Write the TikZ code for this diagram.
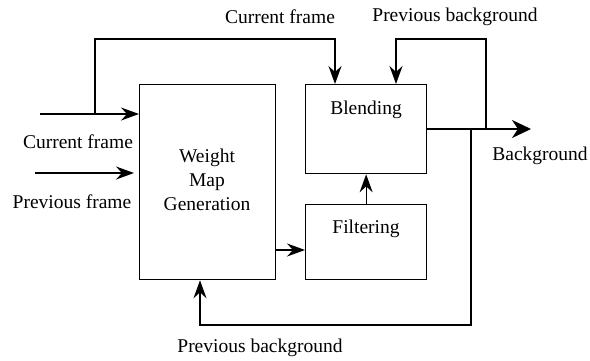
\documentclass[tikz,border=0pt]{standalone}
\usepackage{fontspec}
\setmainfont{Liberation Serif}
\usetikzlibrary{arrows.meta}
\begin{document}
\begin{tikzpicture}[x=1pt,y=-1pt,
  box/.style={draw,line width=1.3pt,inner sep=0pt,anchor=north west},
  lbl/.style={font=\rmfamily\fontsize{19.5}{24}\selectfont,inner sep=0pt},
  conn/.style={line width=1.3pt},
  arr/.style={conn,-{Stealth[length=18pt 0,width=13pt 0,inset=6pt 0]}},
  bigarr/.style={line width=2pt,-{Stealth[length=19pt 0,width=18pt 0,inset=6pt 0]}}]
\useasboundingbox (0,0) rectangle (590,360);
% boxes
\node[box,minimum width=136pt,minimum height=195pt] (wmg) at (139,84) {};
\node[box,minimum width=121pt,minimum height=89pt] (blend) at (305,84) {};
\node[box,minimum width=121pt,minimum height=75pt] (filt) at (305,204) {};
% box texts
\node[lbl,align=center] (wmgt) at (207,180) {Weight\\Map\\Generation};
\node[lbl] (blendt) at (366,110) {Blending};
\node[lbl] (filtt) at (366,229) {Filtering};
% labels
\node[lbl] (lcf) at (78,142) {Current frame};
\node[lbl] (lpf) at (72,202) {Previous frame};
\node[lbl] (lcftop) at (280,17) {Current frame};
\node[lbl] (lpbtop) at (455,17) {Previous background};
\node[lbl] (lbg) at (540,156) {Background};
\node[lbl] (lpbbot) at (260,348) {Previous background};
% coordinates
\coordinate (cin) at (40,114);
\coordinate (pin) at (35,173);
\coordinate (cbr) at (95,114);
\coordinate (ctop) at (335,39);
\coordinate (bout) at (531,129);
\coordinate (pb1) at (486,129);
\coordinate (pbtop) at (396,39);
\coordinate (fb) at (471,129);
\coordinate (fbot) at (200,325);
\coordinate (wf) at (275,250);
% connectors
\draw[arr] (cin) -- (cin -| wmg.west);
\draw[arr] (pin) -- ([xshift=-5pt]pin -| wmg.west);
\draw[arr] (cbr) |- (ctop) -- (ctop |- blend.north);
\draw[bigarr] (blend.east |- bout) -- (bout);
\draw[arr] (pb1) |- (pbtop) -- (pbtop |- blend.north);
\draw[arr] (fb) |- (fbot) -- (fbot |- wmg.south);
\draw[arr] (wf) -- (wf -| filt.west);
\draw[arr] (filt.north) -- (blend.south);
\end{tikzpicture}
\end{document}
